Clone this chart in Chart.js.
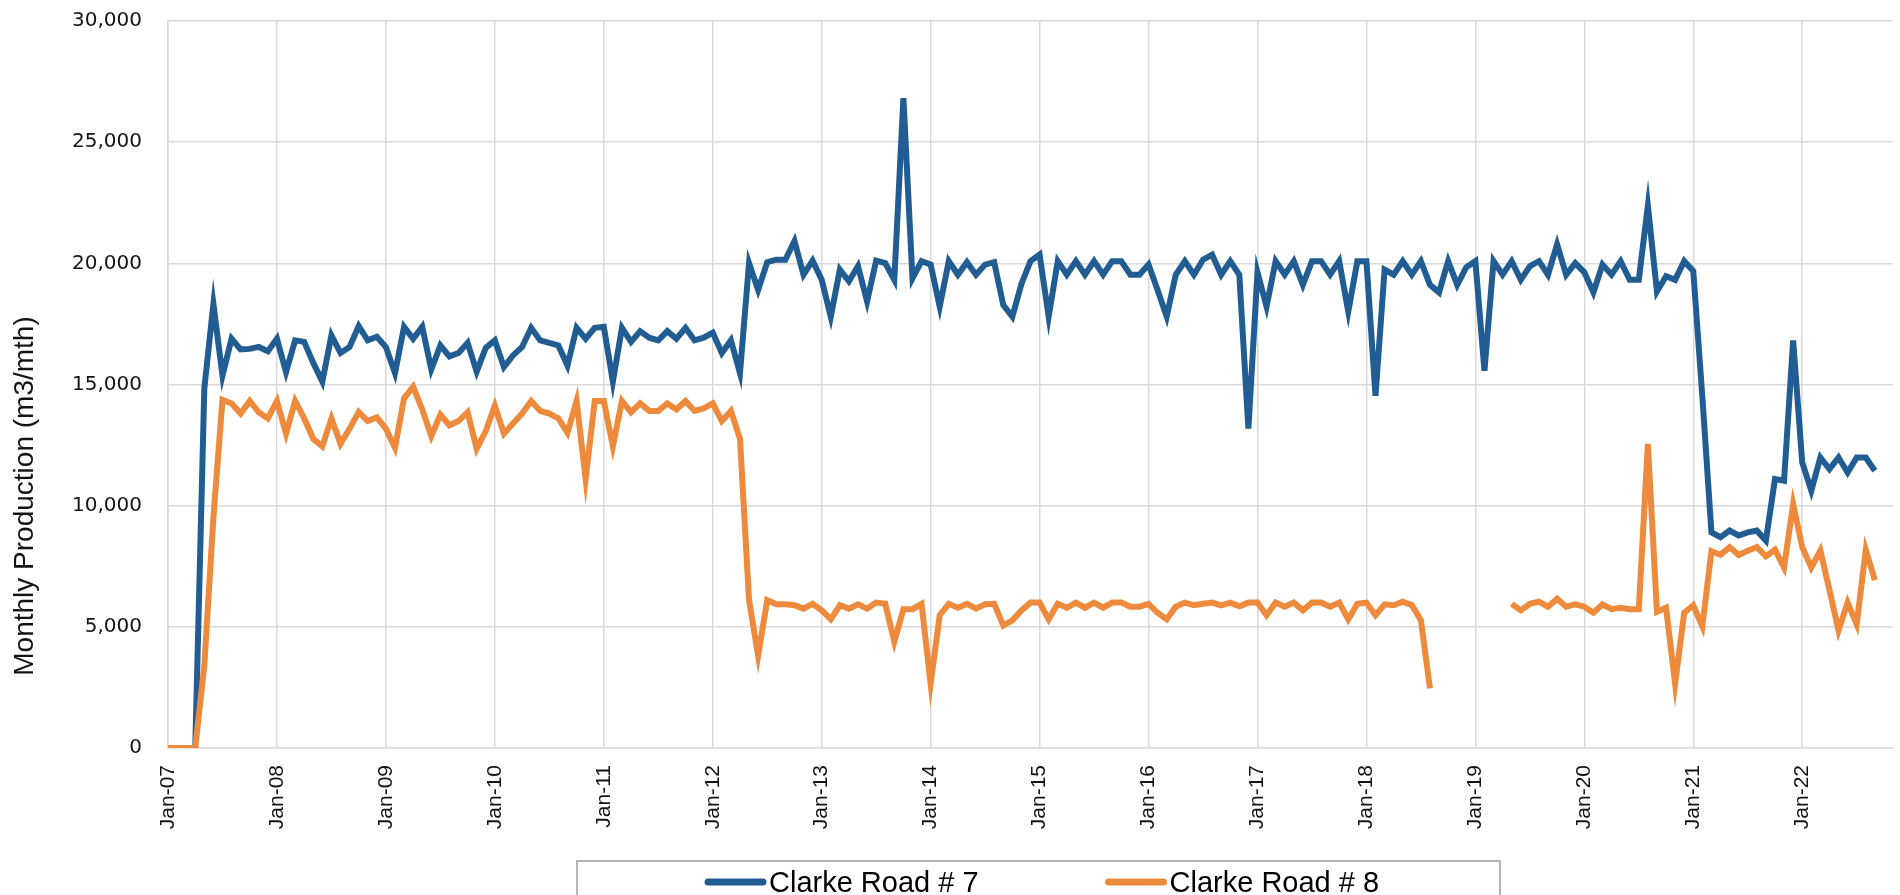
<!DOCTYPE html>
<html>
<head>
<meta charset="utf-8">
<title>Clarke Road monthly production</title>
<script src="https://cdn.jsdelivr.net/npm/chart.js@4.4.1/dist/chart.umd.min.js"></script>
<style>
  html, body { margin: 0; padding: 0; background: #ffffff; }
  #wrap { width: 1900px; height: 895px; }
</style>
</head>
<body>
<div id="wrap"><canvas id="prodChart" width="1900" height="895"></canvas></div>
<script>
// months on the x axis: Jan-07 .. Nov-22 (data ends Sep-22)
var monthNames = ['Jan', 'Feb', 'Mar', 'Apr', 'May', 'Jun', 'Jul', 'Aug', 'Sep', 'Oct', 'Nov', 'Dec'];
var firstYear = 2007;
var monthCount = 191;

var seriesNames = ['Clarke Road # 7', 'Clarke Road # 8'];
var seriesColors = ['#215d93', '#ee8a3c'];

// Clarke Road # 7, one row per year (m3/mth)
var well7 = [
    0, 0, 0, 0, 14840, 18320, 15370, 16890, 16450, 16470, 16550, 16370,
    16890, 15510, 16820, 16760, 15890, 15120, 17030, 16300, 16550, 17410, 16820, 16970,
    16550, 15470, 17380, 16890, 17380, 15620, 16610, 16160, 16300, 16720, 15530, 16510,
    16820, 15720, 16200, 16550, 17340, 16820, 16720, 16610, 15780, 17340, 16890, 17340,
    17380, 15120, 17340, 16760, 17200, 16930, 16820, 17200, 16890, 17340, 16820, 16930,
    17140, 16300, 16820, 15470, 20010, 18900, 20050, 20150, 20150, 20920, 19530, 20110,
    19320, 17800, 19740, 19260, 19880, 18430, 20110, 20010, 19320, 26820, 19380, 20090,
    19950, 18220, 20090, 19530, 20050, 19530, 19950, 20050, 18280, 17800, 19150, 20090,
    20360, 17800, 20090, 19530, 20090, 19530, 20090, 19530, 20090, 20090, 19530, 19530,
    19950, 18900, 17800, 19530, 20090, 19530, 20150, 20360, 19530, 20090, 19530, 13180,
    19630, 18220, 20090, 19530, 20090, 19110, 20090, 20090, 19530, 20090, 18010, 20090,
    20090, 14530, 19740, 19530, 20090, 19530, 20090, 19110, 18800, 20090, 19110, 19840,
    20090, 15570, 20090, 19530, 20090, 19320, 19880, 20090, 19530, 20780, 19530, 20010,
    19630, 18800, 19950, 19530, 20090, 19320, 19320, 22380, 18840, 19470, 19320, 20090,
    19680, 14500, 8900, 8700, 8970, 8770, 8900, 8970, 8560, 11100, 11030, 16820,
    11780, 10620, 11990, 11510, 11990, 11370, 11990, 11990, 11440
];

// Clarke Road # 8 (null = no record, gap in the line)
var well8 = [
    0, 0, 0, 0, 3400, 9500, 14370, 14220, 13800, 14320, 13850, 13600,
    14320, 12970, 14320, 13600, 12760, 12450, 13600, 12550, 13180, 13870, 13490, 13640,
    13180, 12390, 14430, 14910, 13970, 12870, 13760, 13320, 13490, 13850, 12350, 13080,
    14120, 12970, 13390, 13800, 14320, 13910, 13800, 13600, 13010, 14320, 11100, 14320,
    14320, 12450, 14320, 13850, 14220, 13910, 13910, 14220, 13970, 14320, 13910, 14010,
    14220, 13490, 13910, 12760, 6100, 3810, 6100, 5930, 5930, 5890, 5750, 5950,
    5680, 5310, 5890, 5750, 5930, 5750, 6000, 5950, 4390, 5730, 5730, 5950,
    2660, 5480, 5950, 5790, 5950, 5750, 5930, 5950, 5060, 5270, 5680, 6000,
    6000, 5310, 5950, 5790, 6000, 5790, 6000, 5790, 6000, 6000, 5830, 5830,
    5950, 5580, 5310, 5830, 6000, 5890, 5950, 6000, 5890, 6000, 5850, 6000,
    6000, 5480, 6000, 5830, 6000, 5680, 6000, 6000, 5830, 6000, 5310, 5950,
    6000, 5480, 5930, 5890, 6040, 5890, 5270, 2460, null, null, null, null,
    null, null, null, null, 5950, 5680, 5950, 6040, 5830, 6160, 5830, 5930,
    5830, 5580, 5930, 5730, 5790, 5730, 5730, 12550, 5620, 5790, 2660, 5580,
    5890, 5020, 8120, 7970, 8290, 7970, 8140, 8290, 7910, 8180, 7450, 10060,
    8290, 7450, 8140, 6520, 4850, 6000, 5100, 8180, 6930
];

var yTicks = [0, 5000, 10000, 15000, 20000, 25000, 30000];

var monthLabels = [];
for (var i = 0; i < monthCount; i++) {
    var yy = (firstYear + Math.floor(i / 12)) % 100;
    monthLabels.push(monthNames[i % 12] + '-' + (yy < 10 ? '0' + yy : '' + yy));
}

var gridColor = '#d9d9d9';
var textColor = '#141414';

// y axis title, drawn where the original had it (a bit below the plot centre)
var yTitlePlugin = {
    id: 'yTitle',
    afterDraw: function (chart) {
        var ctx = chart.ctx;
        ctx.save();
        ctx.translate(25, 496);
        ctx.rotate(-Math.PI / 2);
        ctx.font = '28px "Liberation Sans", Arial, sans-serif';
        ctx.fillStyle = textColor;
        ctx.textAlign = 'center';
        ctx.textBaseline = 'middle';
        ctx.fillText('Monthly Production (m3/mth)', 0, 0);
        ctx.restore();
    }
};

// boxed legend under the axis labels
var boxLegendPlugin = {
    id: 'boxLegend',
    afterDraw: function (chart) {
        var ctx = chart.ctx;
        ctx.save();
        ctx.strokeStyle = '#b4b4b4';
        ctx.lineWidth = 2;
        ctx.strokeRect(577, 861, 923, 60);

        ctx.font = '29px "Liberation Sans", Arial, sans-serif';
        ctx.textBaseline = 'alphabetic';
        ctx.textAlign = 'left';
        var x = 705;
        chart.data.datasets.forEach(function (ds) {
            ctx.strokeStyle = ds.borderColor;
            ctx.lineWidth = 7;
            ctx.lineCap = 'round';
            ctx.beginPath();
            ctx.moveTo(x + 3, 882);
            ctx.lineTo(x + 58, 882);
            ctx.stroke();
            ctx.fillStyle = '#000000';
            ctx.fillText(ds.label, x + 64, 892);
            x = x + 64 + ctx.measureText(ds.label).width + 127;
        });
        ctx.restore();
    }
};

var ctx = document.getElementById('prodChart').getContext('2d');
new Chart(ctx, {
    type: 'line',
    data: {
        labels: monthLabels,
        datasets: [{
            label: seriesNames[0],
            data: well7,
            borderColor: seriesColors[0],
            backgroundColor: seriesColors[0],
            borderWidth: 6,
            pointRadius: 0,
            tension: 0,
            spanGaps: false,
            order: 2
        }, {
            label: seriesNames[1],
            data: well8,
            borderColor: seriesColors[1],
            backgroundColor: seriesColors[1],
            borderWidth: 6,
            pointRadius: 0,
            tension: 0,
            spanGaps: false,
            order: 1
        }]
    },
    options: {
        responsive: false,
        animation: false,
        layout: { padding: { top: 21, right: 7, bottom: 0, left: 0 } },
        plugins: {
            legend: { display: false },
            tooltip: { enabled: false }
        },
        scales: {
            x: {
                type: 'category',
                afterFit: function (scale) { scale.height = 147; },
                grid: {
                    color: gridColor,
                    lineWidth: 1.5,
                    drawTicks: false
                },
                border: { color: gridColor, width: 1.5 },
                ticks: {
                    autoSkip: false,
                    minRotation: 90,
                    maxRotation: 90,
                    padding: 17,
                    color: textColor,
                    font: { family: '"Liberation Sans", Arial, sans-serif', size: 21 },
                    callback: function (value, index) {
                        return index % 12 === 0 ? monthLabels[index] : null;
                    }
                }
            },
            y: {
                min: yTicks[0],
                max: yTicks[yTicks.length - 1],
                afterFit: function (scale) {
                    scale.width = 168;
                    // tick padding should not push the plot top down
                    scale.paddingTop = 0;
                    scale.paddingBottom = 0;
                },
                afterBuildTicks: function (scale) {
                    scale.ticks = yTicks.map(function (v) { return { value: v }; });
                },
                grid: {
                    color: gridColor,
                    lineWidth: 1.5,
                    drawTicks: false
                },
                border: { color: gridColor, width: 1.5 },
                ticks: {
                    padding: 26,
                    color: textColor,
                    font: { family: '"DejaVu Sans", Verdana, sans-serif', size: 20 },
                    callback: function (value) {
                        return value.toLocaleString('en-US');
                    }
                }
            }
        }
    },
    plugins: [yTitlePlugin, boxLegendPlugin]
});
</script>
</body>
</html>
